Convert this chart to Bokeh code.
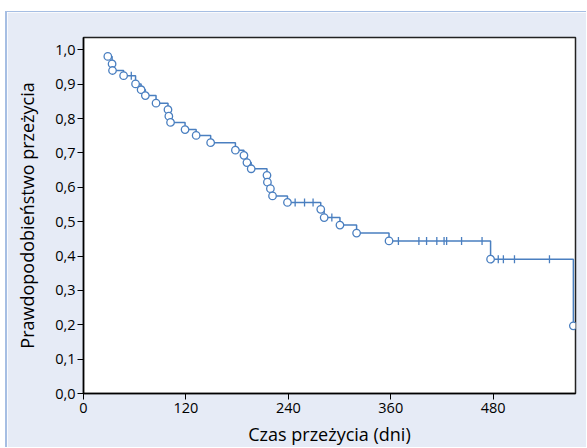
import math
from bokeh.plotting import figure
from bokeh.models import Range1d, FixedTicker, CustomJSTickFormatter
from bokeh.embed import file_html
from bokeh.resources import INLINE

# Kaplan-Meier events (day, survival probability after the event)
event_days = [28.5, 33.5, 34, 47, 61, 67.5, 72.5, 85, 99, 100, 102, 119, 132, 149,
              178, 188, 191.5, 196.5, 215, 215.5, 219, 221.5, 239, 278, 282, 300.5,
              320, 358, 477, 574]
survival = [0.981, 0.959, 0.940, 0.925, 0.901, 0.884, 0.867, 0.845, 0.826, 0.807,
            0.789, 0.768, 0.751, 0.730, 0.708, 0.693, 0.672, 0.654, 0.635, 0.615,
            0.596, 0.575, 0.556, 0.536, 0.512, 0.490, 0.467, 0.444, 0.391, 0.197]
# censored observations (day)
censor_days = [56, 248, 259, 269, 291, 369, 393, 402, 414, 422.5, 425.5, 443, 467,
               478, 486, 492, 505, 546]

x_ticks = [0, 120, 240, 360, 480]
y_ticks = [0.0, 0.1, 0.2, 0.3, 0.4, 0.5, 0.6, 0.7, 0.8, 0.9, 1.0]
x_label = "Czas przeżycia (dni)"
y_label = "Prawdopodobieństwo przeżycia"

BLUE = "#4a7fc0"
BG = "#e6ebf6"
FONT = "Open Sans"

def surv_at(t):
    s = 1.0
    for d, v in zip(event_days, survival):
        if d <= t:
            s = v
    return s

censor_surv = [surv_at(t) for t in censor_days]

p = figure(width=581, height=436, output_backend="svg", toolbar_location=None,
           x_range=Range1d(0, 576.5), y_range=Range1d(0, 1.036),
           min_border_left=76, min_border_right=13, min_border_top=25,
           min_border_bottom=52)
p.margin = (11, 0, 0, 5)
p.styles = {"border-top": "1px solid #a6bee3", "border-left": "2px solid #a6bee3"}
p.background_fill_color = "white"
p.border_fill_color = BG
p.outline_line_color = "#222222"
p.outline_line_width = 1.5
p.grid.visible = False

p.step(event_days, survival, mode="after", line_color=BLUE, line_width=1.5)
p.scatter(censor_days, censor_surv, marker="dash", angle=math.pi / 2, size=8,
          line_color=BLUE, line_width=1.3)
p.scatter(event_days, survival, marker="circle", size=7.5, fill_color="white",
          line_color=BLUE, line_width=1.3)

for ax in (p.xaxis[0], p.yaxis[0]):
    ax.axis_line_color = "black"
    ax.axis_line_width = 1.5
    ax.major_tick_line_color = "black"
    ax.major_tick_line_width = 1
    ax.major_tick_out = 6
    ax.major_tick_in = 0
    ax.minor_tick_line_color = None
    ax.major_label_text_font = FONT
    ax.major_label_text_font_size = "14.5px"
    ax.major_label_text_color = "black"
    ax.axis_label_text_font = FONT
    ax.axis_label_text_font_size = "18px"
    ax.axis_label_text_font_style = "normal"
    ax.axis_label_text_color = "black"

p.xaxis.ticker = FixedTicker(ticks=x_ticks)
p.yaxis.ticker = FixedTicker(ticks=y_ticks)
p.xaxis.formatter = CustomJSTickFormatter(code="return tick.toFixed(0);")
p.yaxis.formatter = CustomJSTickFormatter(code="return tick.toFixed(1).replace('.', ',');")
p.xaxis.axis_label = x_label
p.yaxis.axis_label = y_label
p.xaxis.major_label_standoff = 3
p.yaxis.major_label_standoff = 2
p.xaxis.axis_label_standoff = 6
p.yaxis.axis_label_standoff = 13

open("out.html", "w").write(file_html(p, INLINE))
